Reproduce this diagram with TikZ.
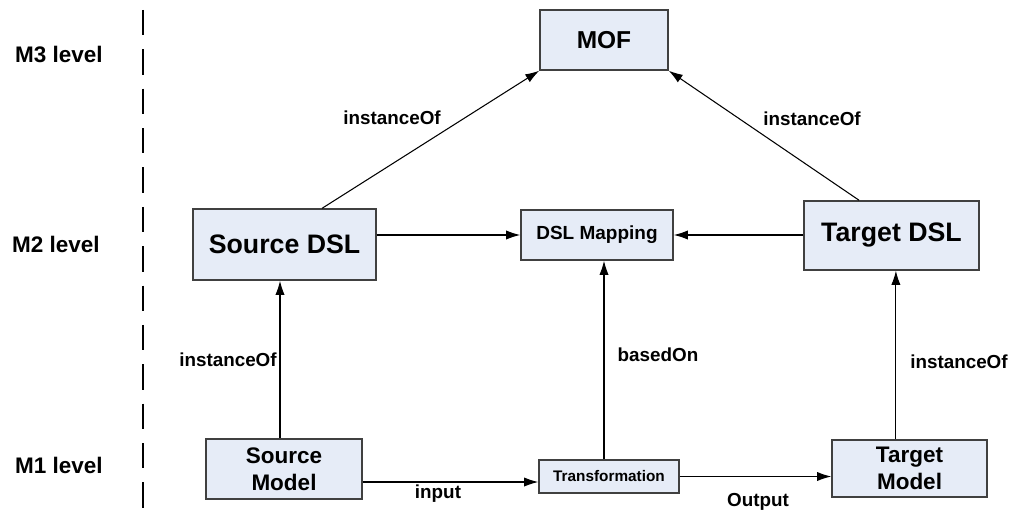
\documentclass[tikz,border=0pt]{standalone}
\usepackage{fontspec}
\setmainfont{Liberation Sans}
\usetikzlibrary{arrows.meta, positioning}
\definecolor{boxfill}{HTML}{E6ECF7}
\definecolor{boxdraw}{HTML}{404040}

\begin{document}
\begin{tikzpicture}[x = 0.025cm, y = -0.025cm,
    blocco/.style = {draw = boxdraw, fill = boxfill, line width = 1pt, inner sep = 0pt, align = center},
    freccia/.style = {-{Latex[length = 10pt, width = 6.5pt]}, line width = 0.75pt},
    etichetta/.style = {font = \bfseries\fontsize{13.4}{16}\selectfont, inner sep = 0pt},
    livello/.style = {font = \bfseries\fontsize{16}{19}\selectfont, inner sep = 0pt}]
    % Parametri
    \pgfmathsetmacro{\W}{1013}
    \pgfmathsetmacro{\H}{512}
    \pgfmathsetmacro{\sep}{143}
    \useasboundingbox (0,0) rectangle (\W,\H);
    % Livelli
    \node[livello] (m3) at (59,54) {M3 level};
    \node[livello] (m2) at (56,244) {M2 level};
    \node[livello] (m1) at (59,465) {M1 level};
    \draw[line width = 0.8pt, dash pattern = on 18pt off 10pt] (\sep,10) -- (\sep,\H);

    % Blocchi
    \node[blocco, minimum width = 3.2cm, minimum height = 1.5cm, font = \bfseries\fontsize{17.4}{20}\selectfont] (mof) at (604,40) {MOF};
    \node[blocco, minimum width = 4.575cm, minimum height = 1.775cm, font = \bfseries\fontsize{19}{22}\selectfont] (srcdsl) at (284.5,244.5) {Source DSL};
    \node[blocco, minimum width = 3.8cm, minimum height = 1.25cm, font = \bfseries\fontsize{13.5}{16}\selectfont] (mapping) at (597,235) {DSL Mapping};
    \node[blocco, minimum width = 4.375cm, minimum height = 1.725cm, font = \bfseries\fontsize{19}{22}\selectfont] (tgtdsl) at (891.5,235.5) {Target DSL};
    \node[blocco, minimum width = 3.9cm, minimum height = 1.5cm, font = \bfseries\fontsize{16}{19}\selectfont] (srcmodel) at (284,469) {Source\\Model};
    \node[blocco, minimum width = 3.5cm, minimum height = 0.825cm, font = \bfseries\fontsize{10.9}{13}\selectfont] (trans) at (609,476.5) {Transformation};
    \node[blocco, minimum width = 3.875cm, minimum height = 1.425cm, font = \bfseries\fontsize{16}{19}\selectfont] (tgtmodel) at (909.5,468.5) {Target\\Model};

    % Frecce
    \draw[freccia] ([xshift = 0.94cm]srcdsl.north) -- (mof.south west);
    \draw[freccia] ([xshift = -0.81cm]tgtdsl.north) -- (mof.south east);
    \draw[freccia] (srcdsl.east |- mapping.west) -- (mapping.west);
    \draw[freccia] (tgtdsl.west |- mapping.east) -- (mapping.east);
    \draw[freccia] ([xshift = -0.1cm]srcmodel.north) -- ([xshift = -0.1cm]srcmodel.north |- srcdsl.south);
    \draw[freccia] ([xshift = -0.125cm]trans.north) -- ([xshift = -0.125cm]trans.north |- mapping.south);
    \draw[freccia] ([xshift = -0.34cm]tgtmodel.north) -- ([xshift = -0.34cm]tgtmodel.north |- tgtdsl.south);
    \draw[freccia] ([yshift = -0.325cm]srcmodel.east) -- ([yshift = -0.325cm]srcmodel.east -| trans.west);
    \draw[freccia] (trans.east) -- (trans.east -| tgtmodel.west);

    % Etichette
    \node[etichetta] (io1) at (392,118) {instanceOf};
    \node[etichetta] (io2) at (812,119) {instanceOf};
    \node[etichetta, anchor = west] (io3) at (179,360) {instanceOf};
    \node[etichetta, anchor = west] (io4) at (910,362) {instanceOf};
    \node[etichetta] (based) at (658,355) {basedOn};
    \node[etichetta] (inp) at (438,494) {input};
    \node[etichetta] (outp) at (758,502) {Output};
\end{tikzpicture}
\end{document}
